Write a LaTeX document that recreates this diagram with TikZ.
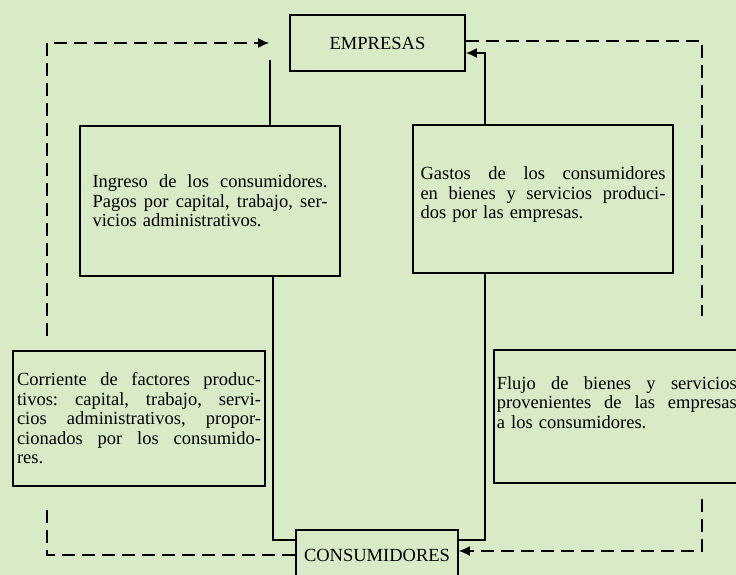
\documentclass[tikz,border=0pt]{standalone}
\usepackage{fontspec}
\setmainfont{Liberation Serif}
\usetikzlibrary{arrows.meta}
\definecolor{paper}{RGB}{216,234,198}
\frenchspacing
\newcommand{\jl}[1]{\leavevmode\hbox to \hsize{\spaceskip=.25em plus 1fil\relax#1}\\}

\begin{document}
\begin{tikzpicture}[
    x=1pt, y=1pt,
    font=\fontsize{18.5}{19.5}\selectfont,
    box/.style={draw, line width=1.6pt, align=left, inner ysep=3pt},
    title/.style={draw, line width=1.6pt, align=center},
    line/.style={line width=1.7pt},
    dline/.style={line width=1.6pt, dash pattern=on 13pt off 7pt},
    tip/.style={-{Latex[length=11pt,width=10pt]}}
]
\fill[paper] (0,0) rectangle (736,575);
\useasboundingbox (0,0) rectangle (736,575);
\node[title, minimum width=175pt, minimum height=56pt] (emp) at (377.5,532) {EMPRESAS};
\node[title, minimum width=162pt, minimum height=50pt] (cons) at (377,20) {CONSUMIDORES};
\node[box, text width=235pt, inner xsep=12.5pt, minimum height=150pt] (ingreso) at (210,374)
    {\jl{Ingreso de los consumidores.}\jl{Pagos por capital, trabajo, ser-}vicios administrativos.};
\node[box, text width=245pt, inner xsep=7.5pt, minimum height=148pt] (gastos) at (543,376)
    {\jl{Gastos de los consumidores}\jl{en bienes y servicios produci-}dos por las empresas.\rule[-12pt]{0pt}{12pt}};
\node[box, text width=244pt, inner xsep=4pt, minimum height=135pt] (corr) at (139,156.5)
    {\jl{Corriente de factores produc-}\jl{tivos: capital, trabajo, servi-}\jl{cios administrativos, propor-}\jl{cionados por los consumido-}res.};
\node[box, text width=240pt, inner xsep=3pt, minimum height=133pt, anchor=west] (flujo) at (493,158.5)
    {\jl{Flujo de bienes y servicios}\jl{provenientes de las empresas}a los consumidores.\rule[-28pt]{0pt}{28pt}};
% guide points
\coordinate (top) at (270,515);
\coordinate (lx) at (47,0);
\coordinate (rx) at (702,0);
\coordinate (mx) at (273,0);
\coordinate (gx) at (485,0);
% money flow
\draw[line] (top) -- (top |- ingreso.north);
\draw[line] (ingreso.south -| mx) |- ([yshift=15pt]cons.west);
\draw[line] ([yshift=15pt]cons.east) -| (gastos.south -| gx);
\draw[line, tip] (gastos.north -| gx) |- ([yshift=-10pt]emp.east);
% real flow
\draw[dline, shorten >=21pt] (cons.west) -| (corr.south -| lx);
\draw[dline, tip, shorten <=14pt, shorten >=20pt] (corr.north -| lx) |- (emp.west);
\draw[dline, shorten >=33pt] ([yshift=2pt]emp.east) -| (flujo.north -| rx);
\draw[dline, tip, shorten <=15pt] (flujo.south -| rx) |- ([yshift=4pt]cons.east);
\end{tikzpicture}
\end{document}
